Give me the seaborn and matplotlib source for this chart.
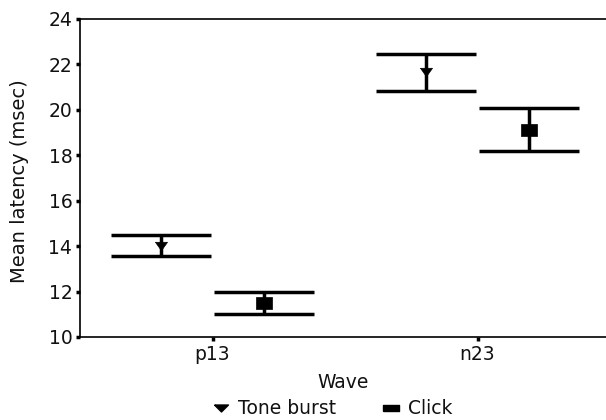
import numpy as np
import pandas as pd
import seaborn as sns
import matplotlib.pyplot as plt
from matplotlib.lines import Line2D

WAVES = ["p13", "n23"]
STIMULI = ["Tone burst", "Click"]
MEAN = {"Tone burst": [14.0, 21.65], "Click": [11.5, 19.1]}
LOW = {"Tone burst": [13.57, 20.84], "Click": [11.03, 18.2]}
HIGH = {"Tone burst": [14.48, 22.45], "Click": [11.97, 20.07]}
OFFSET = {"Tone burst": -0.195, "Click": 0.195}

# flat-ish triangle and wide rectangle, as in the original
TRI = [(-1, 0.7), (1, 0.7), (0, -0.7), (-1, 0.7)]
RECT = [(-1, -0.7), (1, -0.7), (1, 0.7), (-1, 0.7), (-1, -0.7)]
TRI_LEG = [(-1, 0.5), (1, 0.5), (0, -0.5), (-1, 0.5)]
RECT_LEG = [(-1, -0.38), (1, -0.38), (1, 0.38), (-1, 0.38), (-1, -0.38)]
MARKERS = {"Tone burst": TRI, "Click": RECT}
SIZES = {"Tone burst": 75, "Click": 140}

rows = []
for stim in STIMULI:
    for i, wave in enumerate(WAVES):
        rows.append(
            {
                "wave": wave,
                "stimulus": stim,
                "pos": i + OFFSET[stim],
                "mean": MEAN[stim][i],
                "low": LOW[stim][i],
                "high": HIGH[stim][i],
            }
        )
DATA = pd.DataFrame(rows)

sns.set_style("ticks")
plt.rcParams["font.family"] = ["DejaVu Sans"]
plt.rcParams["text.color"] = "#111111"
plt.rcParams["axes.labelcolor"] = "#111111"
plt.rcParams["xtick.color"] = "black"
plt.rcParams["ytick.color"] = "black"
plt.rcParams["xtick.labelcolor"] = "#111111"
plt.rcParams["ytick.labelcolor"] = "#111111"

fig = plt.figure(figsize=(6.06, 4.2), dpi=100)
ax = fig.add_axes([80 / 606, 1 - 337 / 420, (606 - 80) / 606, (337 - 19) / 420])

for stim in STIMULI:
    d = DATA[DATA["stimulus"] == stim]
    ax.errorbar(
        d["pos"],
        d["mean"],
        yerr=[d["mean"] - d["low"], d["high"] - d["mean"]],
        fmt="none",
        ecolor="black",
        elinewidth=2.5,
        capsize=36,
        capthick=2.5,
    )
    sns.scatterplot(
        data=d,
        x="pos",
        y="mean",
        marker=MARKERS[stim],
        color="black",
        s=SIZES[stim],
        edgecolor="black",
        linewidth=0.5,
        legend=False,
        ax=ax,
        zorder=3,
    )

ax.set_xlim(-0.5, -0.5 + 526 / 265)
ax.set_ylim(10, 24)
ax.set_yticks(np.arange(10, 25, 2))
ax.set_xticks(range(len(WAVES)))
ax.set_xticklabels(WAVES)
ax.tick_params(axis="both", labelsize=13.5, length=3, width=2.5, pad=2.5)
ax.set_xlabel("Wave", fontsize=13.5, labelpad=7)
ax.set_ylabel("Mean latency (msec)", fontsize=14)
ax.yaxis.set_label_coords(-51 / 526, 0.49)
for side in ["left", "bottom", "top"]:
    ax.spines[side].set_linewidth(1.2)
    ax.spines[side].set_color("black")
ax.spines["right"].set_visible(False)

handles = [
    Line2D([], [], marker=TRI_LEG, color="black", linestyle="none", markersize=10),
    Line2D([], [], marker=RECT_LEG, color="black", linestyle="none", markersize=12),
]
fig.legend(
    handles,
    STIMULI,
    loc="center",
    bbox_to_anchor=(332 / 606, 1 - 409 / 420),
    ncol=2,
    frameon=False,
    fontsize=13.5,
    handletextpad=0.4,
    columnspacing=2.4,
    handlelength=1.0,
    borderpad=0,
)

fig.savefig("out.png", dpi=100)
